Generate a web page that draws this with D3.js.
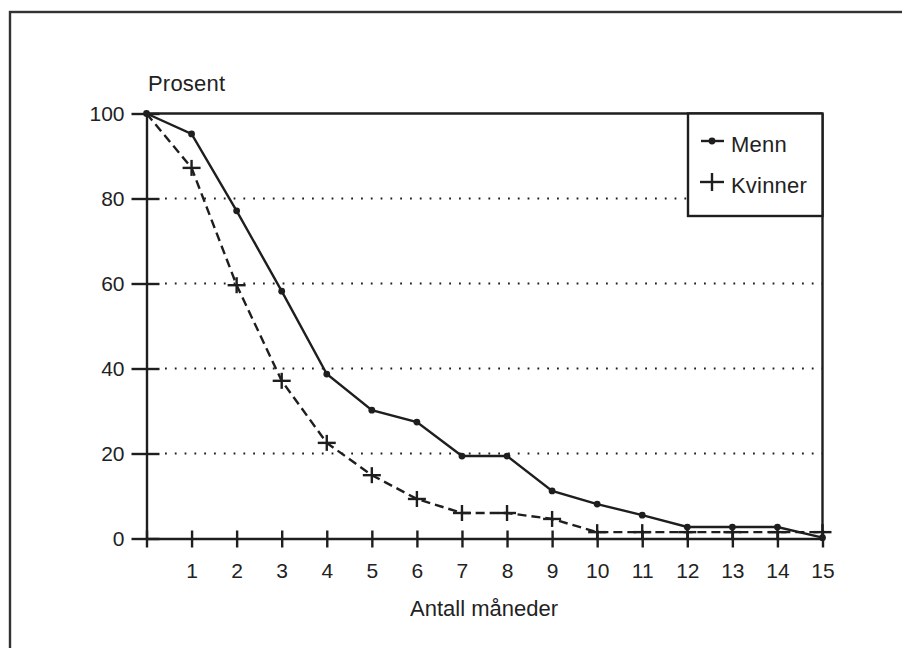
<!DOCTYPE html>
<html>
<head>
<meta charset="utf-8">
<script src="https://cdn.jsdelivr.net/npm/d3@7"></script>
<style>
  html, body { margin: 0; padding: 0; background: #fff; }
  svg { display: block; }
  text { font-family: "Liberation Sans", Arial, Helvetica, sans-serif; fill: #222; }
</style>
</head>
<body>
<svg id="chart" width="902" height="648"></svg>
<script>
const months = [0, 1, 2, 3, 4, 5, 6, 7, 8, 9, 10, 11, 12, 13, 14, 15];
const menn = [100, 95.2, 77.1, 58.2, 38.7, 30.2, 27.4, 19.4, 19.4, 11.2, 8.1, 5.5, 2.7, 2.7, 2.7, 0.2];
const kvinner = [100, 87.2, 59.6, 37.1, 22.5, 14.9, 9.3, 6.0, 6.0, 4.6, 1.5, 1.5, 1.5, 1.5, 1.5, 1.5];
const xTickLabels = [1, 2, 3, 4, 5, 6, 7, 8, 9, 10, 11, 12, 13, 14, 15];
const yTicks = [0, 20, 40, 60, 80, 100];
const seriesNames = ["Menn", "Kvinner"];
const yTitle = "Prosent";
const xTitle = "Antall måneder";

const ink = "#1e1e1e";
const sw = 2.4;
const svg = d3.select("#chart");

// outer frame
svg.append("rect").attr("x", 10).attr("y", 12).attr("width", 900).attr("height", 650)
  .attr("fill", "none").attr("stroke", "#333").attr("stroke-width", 2.4);

const x = d3.scaleLinear().domain([0, 15]).range([146.5, 822.5]);
const y = d3.scaleLinear().domain([0, 100]).range([538.5, 113.5]);

// dotted gridlines
svg.append("g").selectAll("line").data(yTicks.filter(d => d > 0 && d < 100)).join("line")
  .attr("x1", 165).attr("x2", x(15))
  .attr("y1", d => y(d)).attr("y2", d => y(d))
  .attr("stroke", ink).attr("stroke-width", 2.2)
  .attr("stroke-dasharray", "1.8,8").attr("stroke-linecap", "butt");

// top and right border of plot
svg.append("line").attr("x1", x(0)).attr("x2", x(15)).attr("y1", y(100)).attr("y2", y(100))
  .attr("stroke", ink).attr("stroke-width", sw);
svg.append("line").attr("x1", x(15)).attr("x2", x(15)).attr("y1", y(100)).attr("y2", y(0))
  .attr("stroke", ink).attr("stroke-width", sw);

// y axis
const yAxis = d3.axisLeft(y).tickValues(yTicks).tickSizeInner(15).tickSizeOuter(0).tickPadding(8);
const gy = svg.append("g").attr("transform", `translate(${x(0)},0)`).call(yAxis);
gy.select(".domain").attr("stroke", ink).attr("stroke-width", sw);
gy.selectAll(".tick line").attr("stroke", ink).attr("stroke-width", sw).attr("x2", -15).attr("x1", 13);
gy.selectAll(".tick text").attr("font-size", 21).attr("fill", ink)
  .attr("font-family", "Liberation Sans, Arial, sans-serif").attr("x", -22);

// x axis
const xAxis = d3.axisBottom(x).tickValues(months).tickFormat(d => xTickLabels.includes(d) ? d : "")
  .tickSizeInner(9).tickSizeOuter(0).tickPadding(16);
const gx = svg.append("g").attr("transform", `translate(0,${y(0)})`).call(xAxis);
gx.select(".domain").attr("stroke", ink).attr("stroke-width", sw);
gx.selectAll(".tick line").attr("stroke", ink).attr("stroke-width", sw).attr("y1", -8).attr("y2", 9);
gx.selectAll(".tick text").attr("font-size", 21).attr("fill", ink)
  .attr("font-family", "Liberation Sans, Arial, sans-serif");

// series lines
const line = d3.line().x((d, i) => x(months[i])).y(d => y(d));
svg.append("path").datum(kvinner).attr("d", line).attr("fill", "none")
  .attr("stroke", ink).attr("stroke-width", sw).attr("stroke-dasharray", "9,5");
svg.append("path").datum(menn).attr("d", line).attr("fill", "none")
  .attr("stroke", ink).attr("stroke-width", sw);

// markers
svg.append("g").selectAll("circle").data(menn).join("circle")
  .attr("cx", (d, i) => x(months[i])).attr("cy", d => y(d)).attr("r", 3.4).attr("fill", ink);
const plus = (g, cx, cy, hw, hh) => {
  g.append("line").attr("x1", cx - hw).attr("x2", cx + hw).attr("y1", cy).attr("y2", cy)
    .attr("stroke", ink).attr("stroke-width", sw);
  g.append("line").attr("x1", cx).attr("x2", cx).attr("y1", cy - hh).attr("y2", cy + hh)
    .attr("stroke", ink).attr("stroke-width", sw);
};
const pg = svg.append("g");
kvinner.forEach((d, i) => { if (i > 0) plus(pg, x(months[i]), y(d), 9, 8); });

// legend
const lg = svg.append("g");
lg.append("rect").attr("x", 688).attr("y", y(100)).attr("width", x(15) - 688).attr("height", 216 - y(100))
  .attr("fill", "#fff").attr("stroke", ink).attr("stroke-width", sw);
lg.append("line").attr("x1", 701).attr("x2", 724).attr("y1", 141).attr("y2", 141)
  .attr("stroke", ink).attr("stroke-width", sw);
lg.append("circle").attr("cx", 712).attr("cy", 141).attr("r", 3.4).attr("fill", ink);
plus(lg, 712, 182, 12, 9);
lg.append("text").attr("x", 731).attr("y", 152).attr("font-size", 22).attr("letter-spacing", 0.2).text(seriesNames[0]);
lg.append("text").attr("x", 731).attr("y", 193).attr("font-size", 22).attr("letter-spacing", 0.2).text(seriesNames[1]);

// titles
svg.append("text").attr("x", 148).attr("y", 91).attr("font-size", 22).attr("letter-spacing", 0.2).text(yTitle);
svg.append("text").attr("x", 410).attr("y", 616).attr("font-size", 22).attr("letter-spacing", 0).text(xTitle);
</script>
</body>
</html>
